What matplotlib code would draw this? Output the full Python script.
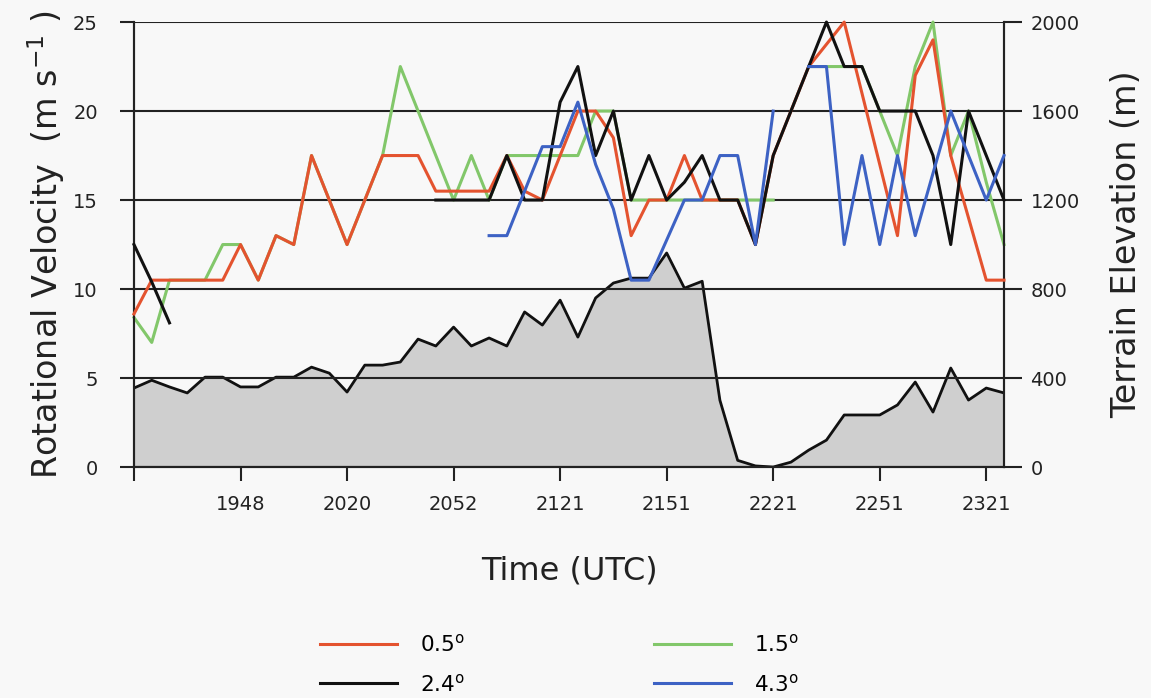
import numpy as np
import matplotlib
matplotlib.use("Agg")
import matplotlib.pyplot as plt

nan = np.nan

# Radar scan times (tick labels every sixth scan)
time_labels = ["", "1948", "2020", "2052", "2121", "2151", "2221", "2251", "2321"]

# Rotational velocity (m s-1) per elevation angle, one value per scan
vr_05 = [8.6, 10.5, 10.5, 10.5, 10.5, 10.5, 12.5, 10.5, 13, 12.5,
         17.5, 15, 12.5, 15, 17.5, 17.5, 17.5, 15.5, 15.5, 15.5,
         15.5, 17.5, 15.5, 15, 17.5, 20, 20, 18.5, 13, 15,
         15, 17.5, 15, 15, 15, 12.5, 17.5, 20, 22.5, 23.75,
         25, 21, 17, 13, 22, 24, 17.5, 14, 10.5, 10.5]

vr_15 = [8.4, 7.0, 10.5, 10.5, 10.5, 12.5, 12.5, 10.5, 13, 12.5,
         17.5, 15, 12.5, 15, 17.5, 22.5, 20, 17.5, 15, 17.5,
         15, 17.5, 17.5, 17.5, 17.5, 17.5, 20, 20, 15, 15,
         15, 15, 15, 15, 15, 15, 15, nan, 22.5, 22.5,
         22.5, 22.5, 20, 17.5, 22.5, 25, 17.5, 20, 16, 12.5]

vr_24 = [12.5, 10.4, 8.1, nan, nan, nan, nan, nan, nan, nan,
         nan, nan, nan, nan, nan, nan, nan, 15, 15, 15,
         15, 17.5, 15, 15, 20.5, 22.5, 17.5, 20, 15, 17.5,
         15, 16, 17.5, 15, 15, 12.5, 17.5, 20, 22.5, 25,
         22.5, 22.5, 20, 20, 20, 17.5, 12.5, 20, 17.5, 15]

vr_43 = [nan, nan, nan, nan, nan, nan, nan, nan, nan, nan,
         nan, nan, nan, nan, nan, nan, nan, nan, nan, nan,
         13, 13, 15.5, 18, 18, 20.5, 17, 14.5, 10.5, 10.5,
         12.75, 15, 15, 17.5, 17.5, 12.5, 20, nan, 22.5, 22.5,
         12.5, 17.5, 12.5, 17.5, 13, 16.5, 20, 17.5, 15, 17.5]

# Terrain elevation (m) beneath the vortex at each scan
terrain = [355, 390, 360, 333, 404, 404, 360, 360, 404, 404,
           449, 422, 337, 458, 458, 472, 575, 544, 629, 544,
           580, 544, 697, 638, 750, 584, 760, 827, 849, 849,
           962, 804, 835, 300, 30, 5, 0, 22, 76, 121,
           234, 234, 234, 279, 382, 247, 445, 301, 355, 333]

series_labels = ["0.5$^{\\mathregular{o}}$", "1.5$^{\\mathregular{o}}$",
                 "2.4$^{\\mathregular{o}}$", "4.3$^{\\mathregular{o}}$"]
series_colors = ["#e4532f", "#82c76a", "#111111", "#3d62c4"]
series_z = [3, 2, 4, 5]

bg = "#f8f8f8"
ink = "#222222"
scan = np.arange(len(terrain))

fig = plt.figure(figsize=(11.51, 6.98), dpi=100, facecolor=bg)
ax = fig.add_axes([0.1164, 0.3309, 0.7559, 0.6375])
ax2 = ax.twinx()
ax.set_zorder(ax2.get_zorder() + 1)
ax.patch.set_visible(False)
ax2.patch.set_facecolor(bg)

# Terrain profile on the right-hand axis
ax2.fill_between(scan, terrain, 0, color="#cfcfcf", lw=0)
ax2.plot(scan, terrain, color="#111111", lw=2.0)
ax2.set_ylim(0, 2000)
ax2.set_yticks(np.arange(0, 2001, 400))
ax2.tick_params(axis="y", direction="out", length=13, width=1.5,
                labelsize=14, pad=6, colors=ink)

# Rotational velocity traces on the left-hand axis
lines = []
for vals, lab, col, z in zip([vr_05, vr_15, vr_24, vr_43], series_labels,
                             series_colors, series_z):
    ln, = ax.plot(scan, vals, color=col, lw=2.2, label=lab, clip_on=False, zorder=z)
    lines.append(ln)

ax.set_xlim(0, len(terrain) - 1)
ax.set_ylim(0, 25)
ax.set_yticks(np.arange(0, 26, 5))
ax.set_xticks(np.arange(0, len(terrain), 6))
ax.set_xticklabels(time_labels)
ax.yaxis.grid(True, color=ink, lw=1.5, zorder=1)
ax.tick_params(axis="y", direction="out", length=10, width=1.5,
               labelsize=14, pad=16, colors=ink)
ax.tick_params(axis="x", direction="out", length=10, width=1.5,
               labelsize=14, pad=10, colors=ink)

for a in (ax, ax2):
    for side in ("left", "right", "bottom"):
        a.spines[side].set_color(ink)
        a.spines[side].set_linewidth(1.5)
    a.spines["top"].set_visible(False)

ax.set_ylabel("Rotational Velocity  (m s$^{\\mathregular{-1}}$ )", fontsize=24,
              color=ink, labelpad=4)
ax2.set_ylabel("Terrain Elevation (m)", fontsize=24, color=ink, labelpad=22)
ax.set_xlabel("Time (UTC)", fontsize=23, color=ink, labelpad=30)

order = [0, 2, 1, 3]
fig.legend([lines[i] for i in order], [series_labels[i] for i in order],
           ncol=2, loc="upper left", bbox_to_anchor=(0.278, 0.092),
           frameon=False, fontsize=15.5, handlelength=3.57, handletextpad=1.07,
           columnspacing=8.8, labelspacing=0.8, borderpad=0, borderaxespad=0)

fig.savefig("out.png", dpi=100, facecolor=bg)
